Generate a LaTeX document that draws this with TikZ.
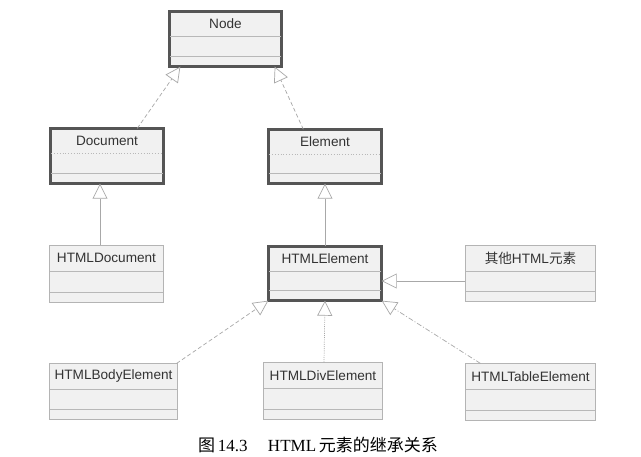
\documentclass[tikz,border=0pt]{standalone}
\usepackage{fontspec}
\setmainfont{Liberation Serif}
\setsansfont{Liberation Sans}
\newfontfamily\cjk{Noto Sans CJK SC}
\usetikzlibrary{arrows.meta}
\definecolor{boldc}{HTML}{555555}
\definecolor{thinc}{HTML}{B4B4B4}
\definecolor{boxfill}{HTML}{F1F1F1}
\definecolor{divc}{HTML}{B8B8B8}
\definecolor{arrowc}{HTML}{A8A8A8}
\definecolor{txtc}{HTML}{333333}
\tikzset{
  thickbox/.style={draw=boldc, line width=2.6pt, fill=boxfill, inner sep=0pt, outer sep=0pt},
  thinbox/.style={draw=thinc, line width=0.8pt, fill=boxfill, inner sep=0pt, outer sep=0pt},
  divsolid/.style={draw=divc, line width=0.7pt},
  divdot/.style={draw=divc, line width=0.8pt, dotted},
  titletext/.style={font=\sffamily\fontsize{13.6}{16}\selectfont, text=txtc, inner sep=0pt},
  inh/.style={draw=arrowc, line width=0.7pt,
    -{Triangle[fill=white, length=15pt, width=15pt, line width=0.7pt]}},
  dashA/.style={dash pattern=on 4pt off 2.5pt},
  dashDot/.style={dash pattern=on 5pt off 2pt on 1pt off 2pt},
  dotline/.style={dash pattern=on 1pt off 1.2pt},
}
% #1 style, #2 name, #3 left, #4 top, #5 right, #6 bottom, #7 text, #8 first divider style
\newcommand\umlclass[8]{%
  \node[#1, minimum width={#5pt-#3pt}, minimum height={#6pt-#4pt}] (#2) at ({(#3+#5)/2},{(#4+#6)/2}) {};
  \draw[#8] ([yshift=-25.5pt,xshift=1pt]#2.north west) -- ([yshift=-25.5pt,xshift=-1pt]#2.north east);
  \draw[divsolid] ([yshift=10.5pt,xshift=1pt]#2.south west) -- ([yshift=10.5pt,xshift=-1pt]#2.south east);
  \node[titletext] (#2-t) at ([yshift=-12.75pt]#2.north) {#7};
}
\begin{document}
\begin{tikzpicture}[x=1pt, y=-1pt]
\useasboundingbox[fill=white] (0,0) rectangle (641,457);

\umlclass{thickbox}{node}{169.3}{11.3}{281.7}{66.7}{Node}{divsolid}
\umlclass{thickbox}{doc}{50.3}{128.3}{163.7}{183.7}{Document}{divdot}
\umlclass{thickbox}{elem}{268.3}{129.3}{381.7}{183.7}{Element}{divdot}
\umlclass{thinbox}{hdoc}{49.4}{245.4}{163.6}{302.6}{HTMLDocument}{divsolid}
\umlclass{thickbox}{hel}{268.3}{246.3}{381.7}{300.7}{HTMLElement}{divsolid}
\umlclass{thinbox}{other}{465.4}{245.4}{595.6}{301.6}{{\cjk 其他}HTML{\cjk 元素}}{divsolid}
\umlclass{thinbox}{body}{49.4}{363.4}{177.6}{419.6}{HTMLBodyElement}{divsolid}
\umlclass{thinbox}{div}{263.4}{362.4}{382.6}{419.6}{HTMLDivElement}{divsolid}
\umlclass{thinbox}{table}{465.4}{363.4}{595.6}{420.6}{HTMLTableElement}{divsolid}

% connectors
\draw[inh, dashA] ([xshift=87pt]doc.north west) -- ([xshift=11pt]node.south west);
\draw[inh, dashA] ([xshift=35pt]elem.north west) -- ([xshift=-7pt]node.south east);
\draw[inh] ([xshift=50.6pt]hdoc.north west) -- ([xshift=49.7pt]doc.south west);
\draw[inh] (hel.north) -- (elem.south);
\draw[inh] ([yshift=-35.6pt]other.north west) -- ([yshift=-34.7pt]hel.north east);
\draw[inh, dashA] ([xshift=-1pt]body.north east) -- (hel.south west);
\draw[inh, dotline] ([xshift=1pt]div.north) -- (hel.south);
\draw[inh, dashDot] ([xshift=15pt]table.north west) -- (hel.south east);

\node[font=\fontsize{17}{19}\selectfont, text=black, inner sep=0pt] (caption) at (318,445)
  {{\cjk 图}\,14.3\hspace{1.2em}HTML\,{\cjk 元素的继承关系}};
\end{tikzpicture}
\end{document}
